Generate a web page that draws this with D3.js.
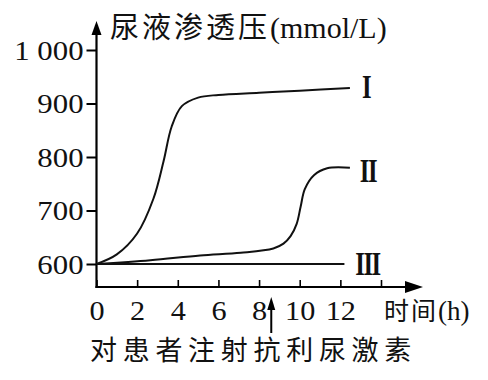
<!DOCTYPE html>
<html>
<head>
<meta charset="utf-8">
<script src="https://cdn.jsdelivr.net/npm/d3@7"></script>
<style>
  html, body { margin: 0; padding: 0; background: #fff; }
  svg { display: block; }
</style>
</head>
<body>
<svg id="chart" width="488" height="380"></svg>
<script>
// ---- data ----
const yTicks = [600, 700, 800, 900, 1000];
const yTickLabels = ["600", "700", "800", "900", "1 000"];
const xTicks = [0, 2, 4, 6, 8, 10, 12, 14];
const xTickLabels = ["0", "2", "4", "6", "8", "10", "12", ""];

const seriesI_t = [0, 1, 2, 2.8, 3.3, 3.7, 4.2, 5, 6, 8, 10, 12.47];
const seriesI_v = [600, 618, 657, 722, 792, 857, 895, 911, 916, 920, 924, 929];
const seriesII_t = [0, 2.65, 5.1, 7.1, 8.7, 9.2, 9.55, 9.85, 10.05, 10.25, 10.7, 11.35, 12.47];
const seriesII_v = [600, 607, 616, 621, 629, 638, 652, 675, 708, 740, 766, 779, 780];
const seriesIII_t = [0, 12.2];
const seriesIII_v = [600, 600];
const seriesNames = ["I", "II", "III"];

const yTitleCJK = "尿液渗透压";
const yTitleUnit = "(mmol/L)";
const xTitleCJK = "时间";
const xTitleUnit = "(h)";
const annotationText = "对患者注射抗利尿激素";
const annotationTime = 8.6;

// ---- scales ----
const svg = d3.select("#chart");
const x = d3.scaleLinear().domain([0, 14]).range([96.5, 381]);
const y = d3.scaleLinear().domain([600, 1000]).range([264, 50]);
const axisY0 = 287;   // pixel position of x axis line
const axisTopY = 21;  // tip of y axis arrow
const axisRightX = 423;

const SERIF = "'Liberation Serif', 'Times New Roman', serif";
const CJK = "'Noto Sans CJK SC', 'Noto Sans CJK JP', sans-serif";

// ---- axes ----
const gy = svg.append("g").attr("transform", `translate(${x(0)},0)`)
  .call(d3.axisLeft(y).tickValues(yTicks).tickSize(10).tickPadding(3)
    .tickFormat((d, i) => yTickLabels[i]));
gy.attr("font-family", SERIF).attr("font-size", 27);
gy.select(".domain").remove();
gy.selectAll(".tick line").attr("stroke", "#000").attr("stroke-width", 2);
gy.selectAll(".tick text")
  .style("font-family", SERIF).style("font-size", "27px")
  .attr("fill", "#111")
  .attr("x", -13 / 1.14).attr("dy", "0.34em")
  .attr("transform", "scale(1.14,1)");

const gx = svg.append("g").attr("transform", `translate(0,${axisY0})`)
  .call(d3.axisBottom(x).tickValues(xTicks).tickSize(-7).tickPadding(14)
    .tickFormat((d, i) => xTickLabels[i]));
gx.attr("font-family", SERIF).attr("font-size", 27);
gx.select(".domain").remove();
gx.selectAll(".tick line").attr("stroke", "#000").attr("stroke-width", 1.6);
gx.selectAll(".tick text")
  .style("font-family", SERIF).style("font-size", "27px")
  .attr("fill", "#111")
  .attr("transform", "scale(1.12,1)");

// axis lines with arrows
svg.append("line").attr("x1", x(0)).attr("y1", axisY0 + 1).attr("x2", x(0)).attr("y2", axisTopY + 10)
  .attr("stroke", "#000").attr("stroke-width", 2.2);
svg.append("path")
  .attr("d", `M${x(0)},${axisTopY} L${x(0) - 5},${axisTopY + 14} L${x(0) + 5},${axisTopY + 14} Z`)
  .attr("fill", "#000");
svg.append("line").attr("x1", x(0) - 1).attr("y1", axisY0).attr("x2", axisRightX - 10).attr("y2", axisY0)
  .attr("stroke", "#000").attr("stroke-width", 2.2);
svg.append("path")
  .attr("d", `M${axisRightX},${axisY0} L${axisRightX - 18},${axisY0 - 6} L${axisRightX - 18},${axisY0 + 6} Z`)
  .attr("fill", "#000");

// ---- lines ----
const line = d3.line().x(d => x(d[0])).y(d => y(d[1])).curve(d3.curveCatmullRom.alpha(0.5));
const allSeries = [
  d3.zip(seriesI_t, seriesI_v),
  d3.zip(seriesII_t, seriesII_v),
  d3.zip(seriesIII_t, seriesIII_v)
];
svg.selectAll("path.series").data(allSeries).join("path")
  .attr("class", "series")
  .attr("d", line)
  .attr("fill", "none").attr("stroke", "#111").attr("stroke-width", 2);

// series labels
const labelPos = [[366, 98], [368, 182], [367.5, 275]];
svg.selectAll("text.slabel").data(seriesNames).join("text")
  .attr("class", "slabel")
  .attr("transform", (d, i) => `translate(${labelPos[i][0]},${labelPos[i][1]}) scale(0.75,1)`)
  .attr("text-anchor", "middle")
  .style("font-family", SERIF)
  .attr("font-size", 33)
  .attr("font-weight", "bold")
  .attr("letter-spacing", -2)
  .attr("fill", "#111")
  .text(d => d);

// ---- titles ----
const t1 = svg.append("text").attr("x", 110).attr("y", 38).attr("fill", "#111");
t1.append("tspan").style("font-family", CJK).attr("font-size", 29).attr("letter-spacing", 3).text(yTitleCJK);
t1.append("tspan").style("font-family", SERIF).attr("font-size", 30).text(yTitleUnit);

const t2 = svg.append("text").attr("x", 384).attr("y", 320).attr("fill", "#111");
t2.append("tspan").style("font-family", CJK).attr("font-size", 25).attr("letter-spacing", 2).text(xTitleCJK);
t2.append("tspan").style("font-family", SERIF).attr("font-size", 27).text(xTitleUnit);

// annotation arrow
const ax = x(annotationTime);
svg.append("line").attr("x1", ax).attr("y1", 333).attr("x2", ax).attr("y2", 306)
  .attr("stroke", "#000").attr("stroke-width", 2);
svg.append("path")
  .attr("d", `M${ax},${297} L${ax - 4},${310} L${ax + 4},${310} Z`).attr("fill", "#000");

svg.append("text").style("font-family", CJK).attr("x", 90).attr("y", 360)
  .attr("font-size", 27).attr("letter-spacing", 5.7)
  .attr("fill", "#111").text(annotationText);
</script>
</body>
</html>
